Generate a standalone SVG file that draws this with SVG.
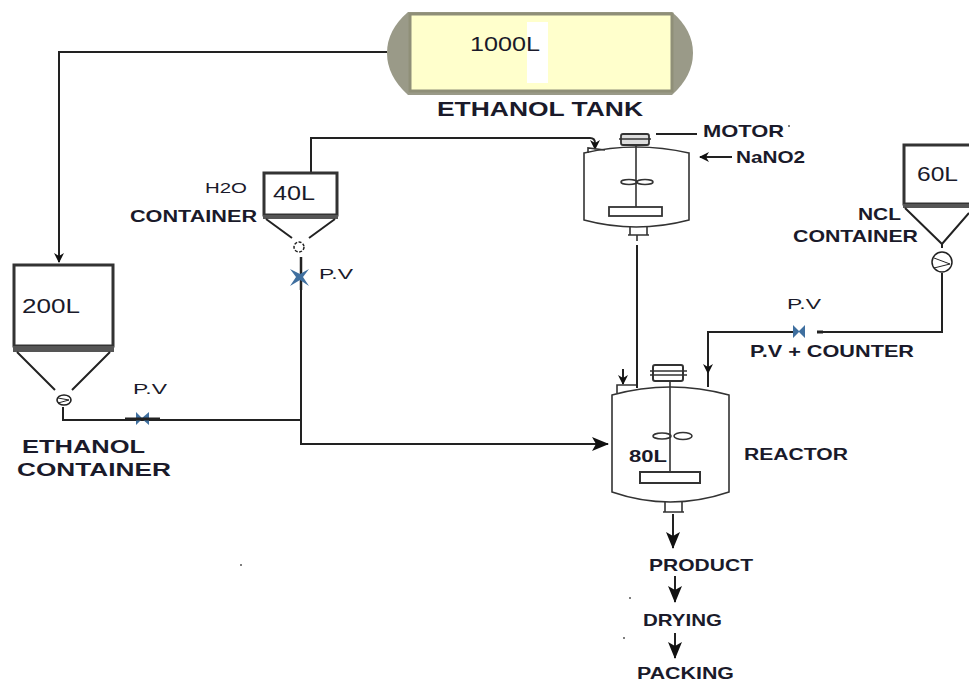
<svg xmlns="http://www.w3.org/2000/svg" width="969" height="681" viewBox="0 0 969 681">
<defs>
<marker id="ah" markerUnits="userSpaceOnUse" markerWidth="10" markerHeight="12" refX="9" refY="5" orient="auto"><path d="M0 0L10 5L0 10L3 5Z" fill="#111"/></marker>
<marker id="ab" markerUnits="userSpaceOnUse" markerWidth="18" markerHeight="14" refX="16" refY="7" orient="auto"><path d="M0 0L17 7L0 14L4 7Z" fill="#111"/></marker>
</defs>
<style>
text{font-family:"Liberation Sans",Arial,sans-serif;fill:#1a1a2a;lengthAdjust:spacingAndGlyphs}
.b{font-weight:bold}
.l{fill:none;stroke:#222;stroke-width:2}
.t{fill:none;stroke:#333;stroke-width:1.6}
.box{fill:#fff;stroke:#333;stroke-width:3}
.bar{fill:#555}
.v{fill:#3f6f9f}
.speck{fill:#555}
</style>
<rect width="969" height="681" fill="#fff"/>
<g id="connectors">
<path class="l" d="M387 52H59V262" marker-end="url(#ah)"/>
<path class="l" d="M311 172V138H590Q595 138 595 143V149" marker-end="url(#ah)"/>
<path class="l" d="M301 257V444H608" marker-end="url(#ab)"/>
<path class="l" d="M63 407V420H301"/>
<path class="l" d="M637 245V388"/>
<path class="l" d="M942 273V332H817M793 332H708V373" marker-end="url(#ah)"/>
<path class="l" d="M708 373V387"/>
<path class="l" d="M623 369V384" marker-end="url(#ah)"/>
<path class="l" d="M673 514V548" marker-end="url(#ab)"/>
<path class="l" d="M675 576V602" marker-end="url(#ab)"/>
<path class="l" d="M675 633V658" marker-end="url(#ab)"/>
<path class="l" d="M656 134H697"/>
<path class="l" d="M732 157H700" marker-end="url(#ah)"/>
</g>
<g id="ethanol-tank">
<path d="M408 12Q387 30 387 53Q387 76 408 95H672Q693 76 693 53Q693 30 672 12Z" fill="#9a9a88"/>
<rect x="410" y="14" width="262" height="77" fill="#ffffcc" stroke="#8f8f78" stroke-width="3"/>
<rect x="527" y="22" width="21" height="61" fill="#fff"/>
<text x="470" y="51" font-size="20" textLength="70" lengthAdjust="spacingAndGlyphs">1000L</text>
<text class="b" x="437" y="116" font-size="20" textLength="206" lengthAdjust="spacingAndGlyphs">ETHANOL TANK</text>
</g>
<g id="ethanol-container">
<rect class="box" x="14" y="265" width="99" height="81"/>
<rect class="bar" x="13" y="346" width="101" height="6"/>
<path class="l" stroke-width="3" d="M17 352L55 390M110 352L72 390"/>
<ellipse cx="64" cy="400" rx="7" ry="5" fill="#fff" stroke="#222" stroke-width="1.600"/>
<path d="M58 398L69 400L58 403" stroke="#222" fill="none"/>
<text x="22" y="313" font-size="20" textLength="58" lengthAdjust="spacingAndGlyphs">200L</text>
<text class="b" x="22" y="453" font-size="19" textLength="123" lengthAdjust="spacingAndGlyphs">ETHANOL</text>
<text class="b" x="17" y="476" font-size="19" textLength="154" lengthAdjust="spacingAndGlyphs">CONTAINER</text>
</g>
<g id="valve-1">
<path class="v" d="M136 412L142 418L149 412V425L142 419L136 425Z"/>
<path d="M125 419H160" stroke="#222" stroke-width="3"/>
<text x="133" y="394" font-size="15.500" textLength="34" lengthAdjust="spacingAndGlyphs">P.V</text>
</g>
<g id="h2o-container">
<rect class="box" x="264" y="173" width="73" height="42"/>
<rect class="bar" x="263" y="215" width="75" height="4"/>
<path class="l" d="M266 219L292 238M335 219L309 238"/>
<circle cx="299" cy="247" r="5" fill="#fff" stroke="#222" stroke-width="1.500" stroke-dasharray="3 1.500"/>
<text x="273" y="200" font-size="20" textLength="42" lengthAdjust="spacingAndGlyphs">40L</text>
<text x="205" y="193" font-size="15" textLength="42" lengthAdjust="spacingAndGlyphs">H2O</text>
<text class="b" x="130" y="222" font-size="16" textLength="127" lengthAdjust="spacingAndGlyphs">CONTAINER</text>
</g>
<g id="valve-2">
<path d="M301 257V290" stroke="#222" stroke-width="2.500"/>
<path class="v" d="M290 269L300 274L309 269L303 277L309 286L300 280L290 286L296 277Z"/>
<text x="319" y="279" font-size="15.500" textLength="34" lengthAdjust="spacingAndGlyphs">P.V</text>
</g>
<g id="mixer">
<path class="t" d="M584 153Q636 141 689 153V220Q636 234 584 220Z" fill="#fff"/>
<path class="t" d="M588 153V148L605 150"/>
<rect x="621" y="134" width="28" height="11" rx="2" fill="#ddd" stroke="#333" stroke-width="1.800"/>
<path class="t" d="M619 139H651M636 145V207"/>
<ellipse cx="629" cy="182" rx="8" ry="2.500" class="t"/>
<ellipse cx="645" cy="182" rx="8" ry="2.500" class="t"/>
<rect x="609" y="207" width="53" height="9" fill="#fff" stroke="#333" stroke-width="1.800"/>
<path class="t" d="M630 227V235H647V227M628 235H649M637 235V241"/>
<text class="b" x="703" y="137" font-size="17" textLength="81" lengthAdjust="spacingAndGlyphs">MOTOR</text>
<circle class="speck" cx="789" cy="126" r="1"/>
<text class="b" x="736" y="163" font-size="16" textLength="69" lengthAdjust="spacingAndGlyphs">NaNO2</text>
</g>
<g id="reactor">
<path class="t" stroke-width="2" d="M612 395Q670 379 729 395V492Q670 512 612 492Z" fill="#fff"/>
<path class="t" d="M617 393V385H636"/>
<rect x="653" y="365" width="30" height="16" rx="2" fill="#fff" stroke="#333" stroke-width="2"/>
<path class="t" d="M650 371H687M650 375H687M670 381V472"/>
<ellipse cx="662" cy="436" rx="9" ry="3" class="t"/>
<ellipse cx="683" cy="436" rx="9" ry="3.500" class="t"/>
<rect x="640" y="472" width="60" height="11" fill="#fff" stroke="#333" stroke-width="2"/>
<path class="t" d="M665 502V512H682V502M663 512H684"/>
<text class="b" x="629" y="462" font-size="17" textLength="38" lengthAdjust="spacingAndGlyphs">80L</text>
<text class="b" x="744" y="460" font-size="16" textLength="104" lengthAdjust="spacingAndGlyphs">REACTOR</text>
</g>
<g id="ncl-container">
<rect class="box" x="904" y="145" width="67" height="59"/>
<rect class="bar" x="903" y="204" width="66" height="4"/>
<path class="l" d="M905 208L942 244L969 213M942 243V248"/>
<circle cx="942" cy="262" r="10" fill="#fff" stroke="#222" stroke-width="1.500"/>
<path d="M934 258L950 264L934 268" stroke="#222" fill="none"/>
<text x="917" y="181" font-size="21" textLength="41" lengthAdjust="spacingAndGlyphs">60L</text>
<text class="b" x="858" y="220" font-size="17" textLength="43" lengthAdjust="spacingAndGlyphs">NCL</text>
<text class="b" x="793" y="242" font-size="17" textLength="125" lengthAdjust="spacingAndGlyphs">CONTAINER</text>
</g>
<g id="valve-3">
<path class="v" d="M793 325L799 331L805 325V338L799 332L793 338Z"/>
<path d="M817 332H823" stroke="#222" stroke-width="3"/>
<text x="787" y="309" font-size="15.500" textLength="34" lengthAdjust="spacingAndGlyphs">P.V</text>
<text class="b" x="750" y="357" font-size="16.500" textLength="164" lengthAdjust="spacingAndGlyphs">P.V + COUNTER</text>
</g>
<g id="product"><text class="b" x="649" y="571" font-size="16.500" textLength="104" lengthAdjust="spacingAndGlyphs">PRODUCT</text></g>
<g id="drying"><text class="b" x="643" y="626" font-size="16.500" textLength="79" lengthAdjust="spacingAndGlyphs">DRYING</text></g>
<g id="packing"><text class="b" x="637" y="679" font-size="16" textLength="97" lengthAdjust="spacingAndGlyphs">PACKING</text></g>
<circle class="speck" cx="241" cy="565" r="1"/>
<circle class="speck" cx="630" cy="598" r="1"/>
<circle class="speck" cx="624" cy="638" r="1"/>
</svg>
